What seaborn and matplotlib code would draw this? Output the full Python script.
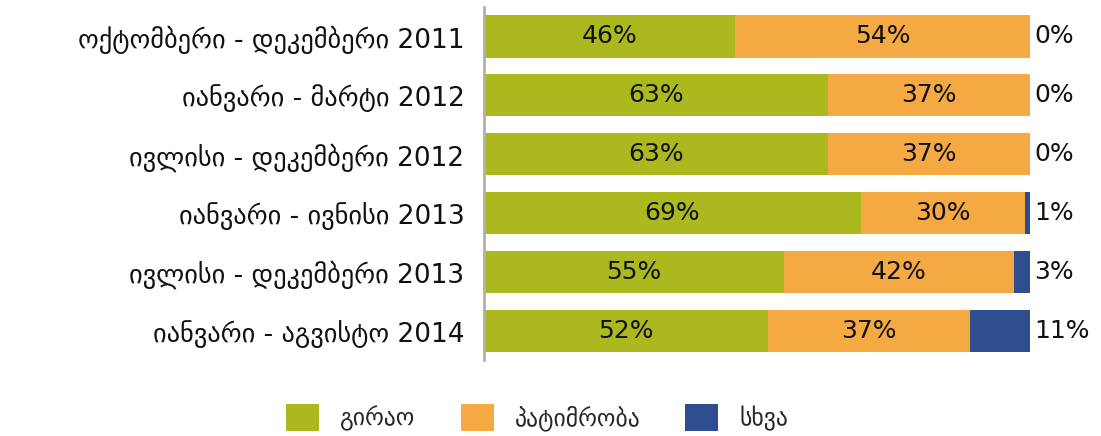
import pandas as pd
import matplotlib
matplotlib.use('Agg')
import matplotlib.pyplot as plt
from matplotlib.patches import Patch
import seaborn as sns

# periods (top to bottom) and shares in percent
periods = ['ოქტომბერი - დეკემბერი 2011', 'იანვარი - მარტი 2012',
           'ივლისი - დეკემბერი 2012', 'იანვარი - ივნისი 2013',
           'ივლისი - დეკემბერი 2013', 'იანვარი - აგვისტო 2014']
bail = [46, 63, 63, 69, 55, 52]
detention = [54, 37, 37, 30, 42, 37]
other = [0, 0, 0, 1, 3, 11]
series_names = ['გირაო', 'პატიმრობა', 'სხვა']
colors = ['#abb91e', '#f5a942', '#2e4d8e']

sns.set_theme(style='white')
plt.rcParams['font.family'] = ['DejaVu Sans']

df = pd.DataFrame({'period': periods, 'bail': bail,
                   'detention': detention, 'other': other})
df['c1'] = df['bail']
df['c2'] = df['bail'] + df['detention']
df['c3'] = df['c2'] + df['other']

fig = plt.figure(figsize=(11.01, 4.36), dpi=100)
ax = fig.add_axes([0.4396, 0.174, 0.4959, 0.81])

# stacked bars: draw cumulative totals, largest first
for col, c in zip(['c3', 'c2', 'c1'], colors[::-1]):
    sns.barplot(data=df, x=col, y='period', color=c, saturation=1,
                width=0.72, ax=ax, orient='h', linewidth=0)

for i, row in df.iterrows():
    ax.text(row['bail'] / 2, i, f"{row['bail']}%", ha='center', va='center',
            fontsize=18, color='#111111')
    ax.text(row['bail'] + row['detention'] / 2, i, f"{row['detention']}%",
            ha='center', va='center', fontsize=18, color='#111111')
    ax.text(100.8, i, f"{row['other']}%", ha='left', va='center',
            fontsize=18, color='#111111')

ax.set_xlim(0, 100)
ax.set_ylim(5.5, -0.5)
ax.set_xlabel('')
ax.set_ylabel('')
ax.set_xticks([])
ax.tick_params(axis='y', length=0, pad=14, labelsize=19, labelcolor='#111111')
for s in ['top', 'right', 'bottom']:
    ax.spines[s].set_visible(False)
ax.spines['left'].set_color('#b0b0b0')
ax.spines['left'].set_linewidth(2)

handles = [Patch(facecolor=c, edgecolor='none') for c in colors]
fig.legend(handles, series_names, loc='center', ncol=3,
           bbox_to_anchor=(0.488, 0.042), frameon=False, fontsize=17,
           handlelength=1.4, handleheight=1.4, columnspacing=1.9,
           handletextpad=0.9)

fig.savefig('out.png', dpi=100)
